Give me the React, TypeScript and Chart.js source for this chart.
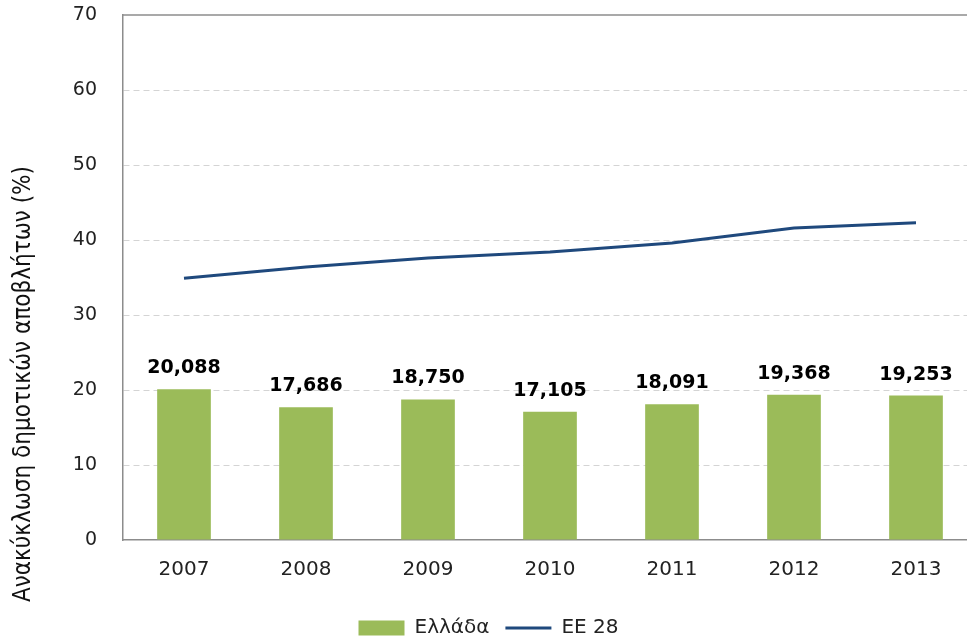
import React, { useEffect, useRef } from "react";
import { Chart, registerables } from "chart.js";

Chart.register(...registerables);

const categories = ["2007", "2008", "2009", "2010", "2011", "2012", "2013"];
const greeceValues = [20.088, 17.686, 18.75, 17.105, 18.091, 19.368, 19.253];
const eu28Values = [34.9, 36.4, 37.6, 38.4, 39.6, 41.6, 42.3];
const yMin = 0;
const yMax = 70;
const yStep = 10;
const greeceLabel = "Ελλάδα";
const euLabel = "ΕΕ 28";
const yTitle = "Ανακύκλωση δημοτικών αποβλήτων (%)";

const FONT = "'DejaVu Sans', 'Liberation Sans', sans-serif";
const TITLE_FONT = "'DejaVu Sans Condensed', 'DejaVu Sans', sans-serif";

const barLabelPlugin = {
  id: "barLabels",
  afterDatasetsDraw(chart: any) {
    const ctx = chart.ctx;
    const meta = chart.getDatasetMeta(0);
    const data = chart.data.datasets[0].data as number[];
    ctx.save();
    ctx.font = `bold 19px ${FONT}`;
    ctx.fillStyle = "#000000";
    ctx.textAlign = "center";
    ctx.textBaseline = "middle";
    meta.data.forEach((el: any, i: number) => {
      const txt = data[i].toFixed(3).replace(".", ",");
      ctx.fillText(txt, el.x, el.y - 21);
    });
    ctx.restore();
  },
};

const framePlugin = {
  id: "frameTop",
  afterDraw(chart: any) {
    const { ctx, chartArea } = chart;
    ctx.save();
    ctx.strokeStyle = "#8c8c8c";
    ctx.lineWidth = 1.5;
    ctx.beginPath();
    ctx.moveTo(chartArea.left, chartArea.top);
    ctx.lineTo(chartArea.right, chartArea.top);
    ctx.stroke();
    ctx.restore();
  },
};

const yTitlePlugin = {
  id: "yTitleCustom",
  afterDraw(chart: any) {
    const ctx = chart.ctx;
    ctx.save();
    let size = 25;
    ctx.font = `${size}px ${TITLE_FONT}`;
    while (ctx.measureText(yTitle).width > 436 && size > 10) {
      size -= 0.5;
      ctx.font = `${size}px ${TITLE_FONT}`;
    }
    ctx.translate(24, 384);
    ctx.rotate(-Math.PI / 2);
    ctx.fillStyle = "#111111";
    ctx.textAlign = "center";
    ctx.textBaseline = "middle";
    ctx.fillText(yTitle, 0, 0);
    ctx.restore();
  },
};

export default function App() {
  const canvasRef = useRef<HTMLCanvasElement | null>(null);

  useEffect(() => {
    if (!canvasRef.current) return;
    const chart = new Chart(canvasRef.current, {
      type: "bar",
      data: {
        labels: categories,
        datasets: [
          {
            type: "bar",
            label: greeceLabel,
            data: greeceValues,
            backgroundColor: "#9BBB59",
            borderColor: "#9BBB59",
            borderWidth: 0,
            barPercentage: 0.44,
            categoryPercentage: 1,
            pointStyle: "rect",
            order: 2,
          } as any,
          {
            type: "line",
            label: euLabel,
            data: eu28Values,
            borderColor: "#1F497D",
            backgroundColor: "#1F497D",
            borderWidth: 3,
            pointRadius: 0,
            tension: 0,
            fill: false,
            pointStyle: "line",
            order: 1,
          } as any,
        ],
      },
      options: {
        responsive: false,
        animation: false,
        devicePixelRatio: 1,
        layout: { padding: { top: 15, left: 0, right: 33, bottom: 12 } },
        plugins: {
          legend: {
            position: "bottom",
            labels: {
              usePointStyle: true,
              pointStyleWidth: 46,
              boxHeight: 15,
              padding: 16,
              color: "#222222",
              font: { family: FONT, size: 20 },
              sort: (a: any, b: any) => a.datasetIndex - b.datasetIndex,
            },
          },
          tooltip: { enabled: false },
          title: { display: false },
        },
        scales: {
          x: {
            type: "category",
            offset: true,
            grid: { display: false, drawTicks: false },
            border: { display: true, color: "#8c8c8c", width: 1.5 },
            ticks: {
              color: "#222222",
              font: { family: FONT, size: 20 },
              padding: 18,
              maxRotation: 0,
            },
            afterFit: (scale: any) => {
              scale.height = 62;
            },
          },
          y: {
            type: "linear",
            min: yMin,
            max: yMax,
            ticks: {
              stepSize: yStep,
              color: "#222222",
              font: { family: FONT, size: 19 },
              padding: 0,
            },
            grid: {
              drawTicks: true,
              tickLength: 26,
              tickColor: "rgba(0,0,0,0)",
              color: (ctx: any) =>
                ctx.tick && (ctx.tick.value === yMin || ctx.tick.value === yMax)
                  ? "rgba(0,0,0,0)"
                  : "#d4d4d4",
              lineWidth: 1,
            },
            border: { display: true, color: "#8c8c8c", width: 1.5, dash: [6, 4] },
            afterFit: (scale: any) => {
              scale.width = 123;
            },
          },
        },
      } as any,
      plugins: [barLabelPlugin, framePlugin, yTitlePlugin],
    });
    return () => chart.destroy();
  }, []);

  return (
    <div
      style={{
        position: "fixed",
        left: 0,
        top: 0,
        width: 967,
        height: 642,
        overflow: "hidden",
        background: "#ffffff",
      }}
    >
      <canvas
        ref={canvasRef}
        width={1010}
        height={660}
        style={{ display: "block", width: "1010px", height: "660px" }}
      />
    </div>
  );
}
